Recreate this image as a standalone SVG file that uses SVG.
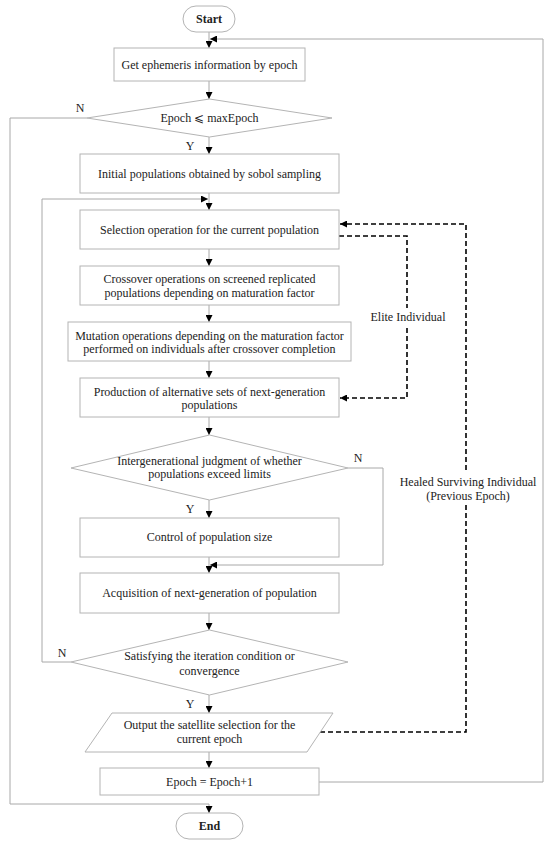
<svg xmlns="http://www.w3.org/2000/svg" width="550" height="848" viewBox="0 0 550 848">
<defs>
<marker id="ah" viewBox="0 0 10 10" refX="10" refY="5" markerWidth="7" markerHeight="7" markerUnits="userSpaceOnUse" orient="auto">
<path d="M0,0 L10,5 L0,10 z" fill="#000"/>
</marker>
<style>
.n{fill:#fff;stroke:#b4b4b4;stroke-width:1}
.t{font-family:"Liberation Serif","Times New Roman",serif;font-size:12px;fill:#222;text-anchor:middle}
.b{font-weight:bold}
.c{fill:none;stroke:#a8a8a8;stroke-width:1}
.d{fill:none;stroke:#000;stroke-width:1.6;stroke-dasharray:5,3}
.lb{fill:#fff;stroke:none}
</style>
</defs>
<rect width="550" height="848" fill="#fff"/>
<g id="connectors">
<path class="c" d="M209,32 V48" marker-end="url(#ah)"/>
<path class="c" d="M209,81 V99" marker-end="url(#ah)"/>
<path class="c" d="M209,137 V154" marker-end="url(#ah)"/>
<path class="c" d="M209,193 V210" marker-end="url(#ah)"/>
<path class="c" d="M71,662 H42 V199 H208" marker-end="url(#ah)"/>
<path class="c" d="M209,249 V266" marker-end="url(#ah)"/>
<path class="c" d="M209,305 V322" marker-end="url(#ah)"/>
<path class="c" d="M209,361 V378" marker-end="url(#ah)"/>
<path class="c" d="M209,417 V435" marker-end="url(#ah)"/>
<path class="c" d="M209,500 V518" marker-end="url(#ah)"/>
<path class="c" d="M209,557 V573" marker-end="url(#ah)"/>
<path class="c" d="M348,468 H383 V565 H210" marker-end="url(#ah)"/>
<path class="c" d="M209,613 V630" marker-end="url(#ah)"/>
<path class="c" d="M209,695 V713" marker-end="url(#ah)"/>
<path class="c" d="M209,752 V768" marker-end="url(#ah)"/>
<path class="c" d="M319,782 H543 V39 H210" marker-end="url(#ah)"/>
<path class="c" d="M87,118 H10 V804 H209 V813" marker-end="url(#ah)"/>
<path class="d" d="M339,236 H407 V398 H340" marker-end="url(#ah)"/>
<path class="d" d="M320,732 H466 V224 H340" marker-end="url(#ah)"/>
</g>
<g id="labels">
<text class="t" x="80" y="112">N</text>
<text class="t" x="190" y="150">Y</text>
<text class="t" x="358" y="462">N</text>
<text class="t" x="190" y="513">Y</text>
<text class="t" x="62" y="657">N</text>
<text class="t" x="190" y="708">Y</text>
<rect class="lb" x="370" y="308" width="76" height="18"/>
<text class="t" x="408" y="321">Elite Individual</text>
<rect class="lb" x="398" y="472" width="140" height="30"/>
<text class="t" x="468" y="486">Healed Surviving Individual</text>
<text class="t" x="468" y="500">(Previous Epoch)</text>
</g>
<g id="start">
<rect class="n" x="183" y="6" width="52" height="26" rx="13"/>
<text class="t b" x="209" y="23">Start</text>
</g>
<g id="get-ephemeris">
<rect class="n" x="114" y="48" width="191" height="33"/>
<text class="t" x="209.5" y="69">Get ephemeris information by epoch</text>
</g>
<g id="epoch-check">
<polygon class="n" points="209.5,99 332,118 209.5,137 87,118"/>
<text class="t" x="209.5" y="122">Epoch ⩽ maxEpoch</text>
</g>
<g id="initial">
<rect class="n" x="80" y="154" width="259" height="39"/>
<text class="t" x="209.5" y="177.5">Initial populations obtained by sobol sampling</text>
</g>
<g id="selection">
<rect class="n" x="80" y="210" width="259" height="39"/>
<text class="t" x="209.5" y="233.5">Selection operation for the current population</text>
</g>
<g id="crossover">
<rect class="n" x="80" y="266" width="259" height="39"/>
<text class="t" x="209.5" y="283">Crossover operations on screened replicated</text>
<text class="t" x="209.5" y="297">populations depending on maturation factor</text>
</g>
<g id="mutation">
<rect class="n" x="68" y="322" width="283" height="39"/>
<text class="t" x="209.5" y="340">Mutation operations depending on the maturation factor</text>
<text class="t" x="209.5" y="353">performed on individuals after crossover completion</text>
</g>
<g id="production">
<rect class="n" x="80" y="378" width="259" height="39"/>
<text class="t" x="209.5" y="396">Production of alternative sets of next-generation</text>
<text class="t" x="209.5" y="409">populations</text>
</g>
<g id="limit-check">
<polygon class="n" points="209.5,435 348,468 209.5,500 71,468"/>
<text class="t" x="209.5" y="465">Intergenerational judgment of whether</text>
<text class="t" x="209.5" y="478">populations exceed limits</text>
</g>
<g id="control">
<rect class="n" x="80" y="518" width="259" height="39"/>
<text class="t" x="209.5" y="541">Control of population size</text>
</g>
<g id="acquisition">
<rect class="n" x="80" y="573" width="259" height="40"/>
<text class="t" x="209.5" y="597">Acquisition of next-generation of population</text>
</g>
<g id="convergence-check">
<polygon class="n" points="209.5,630 348,662 209.5,695 71,662"/>
<text class="t" x="209.5" y="660">Satisfying the iteration condition or</text>
<text class="t" x="209.5" y="675">convergence</text>
</g>
<g id="output">
<polygon class="n" points="112,713 333,713 307,752 85,752"/>
<text class="t" x="209.5" y="729">Output the satellite selection for the</text>
<text class="t" x="209.5" y="743">current epoch</text>
</g>
<g id="epoch-increment">
<rect class="n" x="100" y="768" width="219" height="27"/>
<text class="t" x="209.5" y="786">Epoch = Epoch+1</text>
</g>
<g id="end">
<rect class="n" x="176" y="813" width="67" height="26" rx="13"/>
<text class="t b" x="209.5" y="830">End</text>
</g>
</svg>
